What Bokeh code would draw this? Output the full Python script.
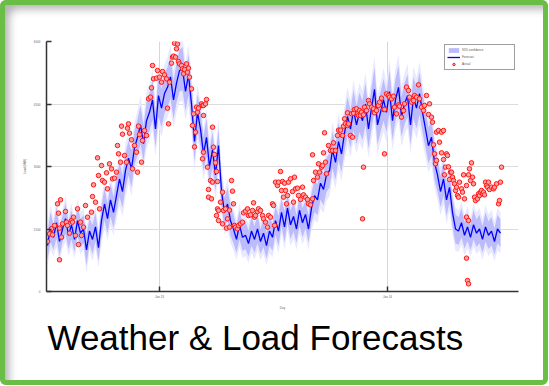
from bokeh.plotting import figure
from bokeh.models import Range1d, FixedTicker, Legend, LegendItem, Title
from bokeh.embed import file_html
from bokeh.resources import INLINE

# ---------------- data ----------------
title_text = "Weather & Load Forecasts"
legend_labels = ["95% confidence", "Forecast", "Actual"]
x_ticks = [113, 341]
x_tick_labels = ["Jan 13", "Jan 14"]
y_ticks = [0, 1500, 3000, 4500, 6000]

fc_day = list(range(1, 455, 3))
fc_load = [
    1100, 1550, 1300, 1650, 1200, 1500, 1750, 1350, 1600, 1250, 1700, 1400,
    1500, 1000, 1450, 1250, 1550, 1050,
    1700, 2100, 1750, 2200, 1900,
    2300, 2700, 2400, 2900,
    3200, 2950, 3450,
    3700, 4000, 3550, 4100,
    4300, 4600, 3900, 4700, 4400, 4750,
    4900, 5150, 4600,
    5000, 5300, 5350, 4800, 5200,
    4500, 3600, 4300,
    3900, 3300, 3700,
    3000, 3400, 2800, 3500,
    2400, 1900, 2100, 1700,
    1500, 1250, 1600, 1300,
    1350, 1150, 1450, 1250, 1500, 1200, 1400, 1100, 1450, 1300,
    1700, 1450, 1900, 1550, 2000, 1600, 1800, 1500, 1950, 1650, 1850, 1500,
    2000, 2300, 2200, 2600, 2450, 2800,
    2900, 3400, 3100, 3600, 3300,
    3800, 4200, 3900, 4350, 4000, 4300,
    4100, 4500, 3900, 4400, 4850, 4000, 4300, 4600,
    4300, 4800, 4100, 4600, 4900, 4200, 4500, 4700, 4000, 4650, 4400, 4750, 4300,
    3900, 3500, 3700, 3100,
    2800, 2400, 2700, 2200, 2500,
    1900, 1500,
    1450, 1650, 1350, 1550, 1300, 1600, 1400, 1500, 1250, 1550, 1350, 1450, 1200, 1500, 1400,
]
fc_spread = [
    320, 360, 300, 380, 340, 310, 370, 330, 350, 300, 360, 340,
    330, 370, 310, 350, 340, 320,
    360, 390, 350, 400, 370,
    380, 420, 390, 430,
    410, 440, 400,
    430, 460, 420, 450,
    450, 480, 440, 500, 460, 470,
    480, 510, 460,
    470, 500, 520, 460, 490,
    450, 480, 440,
    430, 410, 450,
    400, 430, 390, 420,
    370, 350, 390, 360,
    340, 320, 350, 330,
    330, 310, 350, 320, 340, 300, 330, 310, 350, 320,
    340, 360, 330, 370, 350, 340, 360, 330, 370, 350, 340, 330,
    360, 390, 370, 400, 380, 410,
    410, 440, 420, 450, 430,
    440, 470, 450, 480, 460, 470,
    470, 500, 460, 490, 520, 470, 480, 500,
    480, 510, 470, 500, 520, 480, 490, 510, 470, 500, 490, 510, 480,
    450, 430, 440, 420,
    400, 380, 410, 390, 370,
    360, 350,
    330, 350, 320, 340, 310, 350, 330, 340, 320, 350, 330, 340, 310, 340, 330,
]

act_day = [
    1, 3, 5, 6, 8, 11, 12, 13, 13, 14, 15, 16, 19, 20, 21, 23, 25, 26, 27, 29,
    31, 32, 34, 35, 37, 39, 41, 45, 46, 47, 49, 51, 52, 53, 55, 56, 58, 60, 61, 63,
    65, 66, 68, 70, 71, 72, 74, 75, 76, 78, 80, 81, 82, 83, 85, 86, 88, 90, 91, 92,
    93, 95, 96, 98, 100, 102, 104, 105, 106, 107, 110, 111, 113, 115, 116, 118, 120, 121, 122, 123,
    125, 126, 127, 128, 129, 130, 131, 132, 133, 135, 136, 137, 138, 140, 141, 142, 143, 145, 146, 147,
    148, 149, 150, 151, 152, 155, 156, 157,
    156, 157, 159, 160, 157, 166, 167, 168, 169, 170, 161, 164, 162, 165, 162, 166, 171, 176, 174, 171,
    172, 177, 179, 183, 185, 186, 187, 170, 172, 176, 181, 180, 183, 188, 189, 191, 192, 194, 196, 197,
    199, 201, 202, 204, 206, 207, 208, 209, 211, 212, 214, 216, 217, 219, 221, 222, 224, 226, 227, 228,
    229, 231, 232, 234, 235, 236, 237, 238, 239, 240, 241, 242, 244, 246, 247, 248, 249, 251, 252, 254,
    256, 257, 259, 261, 262, 264, 266, 267, 266, 269, 271, 272, 273, 275, 276, 277, 278, 279, 280, 282,
    284, 286, 287, 289, 291, 292, 294, 296, 297, 298, 299, 301, 302, 304, 306, 301, 305, 307, 308, 310,
    311, 312,
    313, 314, 315, 317, 318, 320, 322, 323, 325, 327, 328, 330, 332, 333, 335, 337, 338, 340, 342, 343,
    345, 347, 348, 350, 352, 353, 355, 357, 358, 360, 362, 363, 365, 367, 368, 370, 372, 373, 375, 377,
    378, 380, 382, 383, 385, 386, 390, 392, 393, 395, 397, 387, 388, 389, 390, 395, 397, 400, 401, 398,
    399, 402, 403, 404, 405, 406, 407, 408, 409, 410, 411, 412, 413, 415, 416, 417, 418, 420, 422, 423,
    424, 425, 426, 427, 428, 429, 431, 432, 433, 434, 435, 436, 437, 438, 439, 440, 441, 442, 443, 445,
    447, 448, 450, 452, 453, 454, 455, 420, 422, 420, 421, 422, 317, 316, 338,
]
act_load = [
    1200, 1384, 1504, 1360, 1584, 2104, 1880, 1520, 760, 2200, 1304, 1624, 1920, 1664, 1584, 1400, 1704, 1664, 1784, 1344,
    1984, 1128, 1664, 1344, 1544, 2064, 1784, 1904, 2280, 2560, 2144, 3208, 2784, 1984, 3024, 2664, 2624, 2848, 2464, 3064,
    2944, 2704, 2720, 2864, 3504, 3304, 3104, 3968, 3776, 3264, 3104, 3920, 4024, 3800, 3640, 2944, 3504, 3344, 2864, 3968,
    3768, 3104, 3624, 3864, 3744, 4624, 4664, 4888, 5424, 5104, 5120, 5304, 5144, 5024, 5280, 5200, 5104, 4400, 4024, 5024,
    5480, 5624, 5648, 5960, 5624, 5824, 5940, 5520, 5464, 5424, 5344, 5224, 5328, 5464, 5264, 5360, 5144, 4864, 3984, 4264,
    3472, 3824, 4424, 4304, 4400, 4504, 3184, 3344,
    4464, 4464, 4504, 4608, 4224, 3944, 3464, 3288, 3088, 2880, 2984, 2664, 2264, 2224, 2448, 2624, 2640, 2384, 2144, 1984,
    1944, 1944, 1984, 1952, 2664, 2408, 2104, 1824, 1704, 1624, 1744, 1520, 1544, 1584, 1544, 1504, 1584, 1624, 1664, 1888,
    1928, 1984, 1824, 1840, 1944, 2128, 1784, 1824, 1920, 1984, 1944, 1824, 1744, 1664, 1544, 1824, 1784, 2104, 2064, 1584,
    2624, 2544, 2624, 2880, 2424, 2640, 2264, 2600, 2424, 2104, 2304, 2624, 2704, 2400, 2144, 2744, 2464, 2480, 2304, 2208,
    2504, 2320, 2264, 2208, 2104, 2080, 2224, 2664, 3280, 2864, 2744, 3064, 2864, 2984, 3024, 3328, 3808, 3104, 2824, 3504,
    3384, 3384, 3568, 3384, 3744, 3872, 3872, 3744, 3968, 4144, 4024, 3984, 4024, 3744, 3704, 4288, 4264, 4280, 4368, 4384,
    4264, 4224,
    4344, 4224, 4304, 4240, 4424, 4344, 4584, 4504, 4424, 4384, 4288, 4344, 4464, 4544, 4640, 4368, 4368, 4744, 4704, 4664,
    4624, 4688, 4424, 4264, 4480, 4448, 4184, 4344, 4504, 4904, 4824, 4664, 4544, 4584, 4704, 4664, 4960, 4624, 4424, 4344,
    4464, 4704, 4248, 4504, 4184, 4064, 3824, 3864, 3584, 3824, 3864, 3520, 3304, 3064, 3144, 3328, 3168, 3304, 3264, 2800,
    2984, 2992, 2688, 2864, 2864, 2744, 2664, 2584, 2424, 2504, 2304, 2264, 2624, 2464, 2384, 2800, 2224, 2544, 2800, 2944,
    2664, 3088, 2744, 2584, 2264, 2184, 2224, 2344, 2304, 2384, 2424, 2344, 2384, 2320, 2624, 2544, 2504, 2624, 2448, 2504,
    2464, 2504, 2584, 2104, 2184, 2624, 2984, 1784, 1704, 800, 264, 184, 2984, 1744, 3304,
]

# band edges built from the forecast and its spread
band_lo = [f - s for f, s in zip(fc_load, fc_spread)]
band_hi = [f + s for f, s in zip(fc_load, fc_spread)]
fringe_lo = [f - 1.5 * s for f, s in zip(fc_load, fc_spread)]
fringe_hi = [f + 1.5 * s for f, s in zip(fc_load, fc_spread)]

# ---------------- figure ----------------
W, H = 548, 385
p = figure(width=W, height=H, output_backend="svg", toolbar_location=None,
           x_range=Range1d(0, 472), y_range=Range1d(0, 6000),
           min_border_left=46, min_border_right=W - 518, min_border_top=41,
           min_border_bottom=H - 291)
p.border_fill_color = None
p.background_fill_color = "white"
p.outline_line_color = None
p.styles = {
    "outline": "5px solid #6abd45",
    "outline-offset": "-5px",
    "border-radius": "6px",
    "background-color": "white",
    "box-shadow": "inset 12px 12px 8px -3px rgba(0,0,0,0.30)",
}

xa = p.xaxis[0]
xa.ticker = FixedTicker(ticks=x_ticks)
xa.major_label_overrides = {t: l for t, l in zip(x_ticks, x_tick_labels)}
ya = p.yaxis[0]
ya.ticker = FixedTicker(ticks=y_ticks)
for ax in (xa, ya):
    ax.axis_line_color = "#333333"
    ax.axis_line_width = 1.5
    ax.major_tick_in = 5
    ax.major_tick_out = 0
    ax.major_tick_line_color = "#333333"
    ax.major_tick_line_width = 1.5
    ax.minor_tick_line_color = None
    ax.major_label_text_font_size = "3px"
    ax.major_label_text_color = "#666666"
    ax.axis_label_text_font_size = "3px"
    ax.axis_label_text_color = "#666666"
    ax.axis_label_text_font_style = "normal"
    ax.axis_label_standoff = 4
xa.axis_label = "Day"
xa.major_label_standoff = 3
ya.axis_label = "Load (MW)"
ya.major_label_standoff = 6

p.xgrid.ticker = FixedTicker(ticks=x_ticks)
p.ygrid.ticker = FixedTicker(ticks=y_ticks)
p.xgrid.grid_line_color = "#d6d6d6"
p.ygrid.grid_line_color = "#dcdcdc"

fringe = p.varea(x=fc_day, y1=fringe_lo, y2=fringe_hi, fill_color="#e8e8ff")
band = p.varea(x=fc_day, y1=band_lo, y2=band_hi, fill_color="#bcbcfc")
fline = p.line(fc_day, fc_load, line_color="#0000ff", line_width=1.3)
dots = p.scatter(act_day, act_load, marker="circle", size=4.5,
                 fill_color="#ffa0a0", line_color="#ff1515", line_width=1)

legend = Legend(items=[LegendItem(label=legend_labels[0], renderers=[band]),
                       LegendItem(label=legend_labels[1], renderers=[fline]),
                       LegendItem(label=legend_labels[2], renderers=[dots])],
                location="top_right", margin=3, padding=2, spacing=1,
                glyph_width=13, glyph_height=6, label_height=6, label_width=50,
                label_standoff=2, label_text_font_size="3px",
                label_text_color="#555555",
                border_line_color="#404040", border_line_width=1.5,
                background_fill_color="white", background_fill_alpha=1)
p.add_layout(legend)

p.add_layout(Title(text=title_text, text_font="Liberation Sans",
                   text_font_size="35px", text_font_style="normal",
                   text_color="black", align="left", offset=1, standoff=7),
             "below")

open("out.html", "w").write(file_html(p, INLINE))
